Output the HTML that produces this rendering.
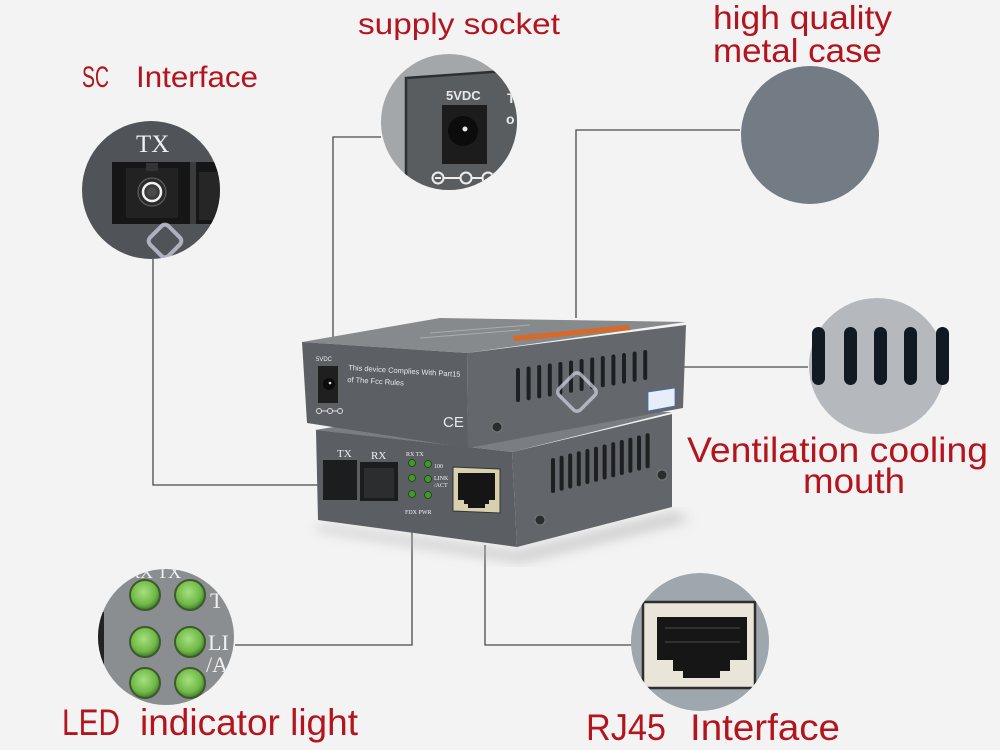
<!DOCTYPE html>
<html><head><meta charset="utf-8"><style>
html,body{margin:0;padding:0;background:#f3f3f3;}
svg{display:block;}
.lbl{font-family:"Liberation Sans",Arial,sans-serif;fill:#b3141d;}
.w{font-family:"Liberation Sans",Arial,sans-serif;fill:#e8e8e8;}
.ws{font-family:"Liberation Serif",serif;fill:#f0f0f0;}
</style></head><body>
<svg width="1000" height="750" viewBox="0 0 1000 750" xmlns="http://www.w3.org/2000/svg">
<defs>
<clipPath id="c1"><circle cx="151" cy="190" r="69"/></clipPath>
<clipPath id="c2"><circle cx="449" cy="122" r="68"/></clipPath>
<clipPath id="c5"><circle cx="166" cy="637" r="68"/></clipPath>
<clipPath id="c6"><circle cx="700" cy="642" r="69"/></clipPath>
<radialGradient id="led" cx="0.45" cy="0.4" r="0.6"><stop offset="0" stop-color="#a6e07e"/><stop offset="0.7" stop-color="#6fb846"/><stop offset="1" stop-color="#3f7a2a"/></radialGradient>
<filter id="blur"><feGaussianBlur stdDeviation="6"/></filter>
</defs>
<rect width="1000" height="750" fill="#f3f3f3"/>

<!-- connectors -->
<g fill="none" stroke="#4a4a4a" stroke-width="1.3">
<path d="M153,259 V485 H323"/>
<path d="M381,137 H333 V352"/>
<path d="M740,130 H576 V318"/>
<path d="M642,367 H808"/>
<path d="M235,645 H412 V530"/>
<path d="M633,645 H485 V545"/>
</g>

<!-- shadow -->
<polygon points="320,525 517,552 675,512 690,520 520,562 315,530" fill="#b8b8b8" filter="url(#blur)" opacity="0.7"/>

<!-- bottom box -->
<polygon points="315,430 420,413 672,412 512,452" fill="#7a7e82"/>
<polygon points="316,430 512,452 517,547 318,520" fill="#5b5f63"/>
<polygon points="512,452 672,414 672,507 517,547" fill="#62666a"/>
<g fill="#1d1f21">
<rect x="551" y="458" width="4" height="35" rx="2"/>
<rect x="559.6" y="455.7" width="4" height="35" rx="2"/>
<rect x="568.2" y="453.5" width="4" height="35" rx="2"/>
<rect x="576.8" y="451.2" width="4" height="35" rx="2"/>
<rect x="585.4" y="449" width="4" height="35" rx="2"/>
<rect x="594" y="446.7" width="4" height="35" rx="2"/>
<rect x="602.6" y="444.5" width="4" height="35" rx="2"/>
<rect x="611.2" y="442.2" width="4" height="35" rx="2"/>
<rect x="619.8" y="440" width="4" height="35" rx="2"/>
<rect x="628.4" y="437.7" width="4" height="35" rx="2"/>
<rect x="637" y="435.5" width="4" height="35" rx="2"/>
<rect x="645.6" y="433.2" width="4" height="35" rx="2"/>
</g>
<circle cx="540" cy="520" r="5" fill="#2a2c2e" stroke="#777" stroke-width="1"/>
<circle cx="662" cy="475" r="5" fill="#2a2c2e" stroke="#777" stroke-width="1"/>
<!-- SC ports -->
<rect x="323" y="460" width="34" height="40" fill="#1c1d1f"/>
<rect x="360" y="462" width="38" height="39" fill="#1c1d1f"/>
<rect x="364" y="468" width="30" height="30" fill="#2c2d2f"/>
<text class="ws" x="337" y="457" font-size="11">TX</text>
<text class="ws" x="371" y="459" font-size="11">RX</text>
<!-- LEDs -->
<g fill="#3f9a2a" stroke="#1d3d14" stroke-width="0.8">
<circle cx="412" cy="463" r="3.5"/><circle cx="428" cy="464" r="3.5"/>
<circle cx="412" cy="478" r="3.5"/><circle cx="428" cy="479" r="3.5"/>
<circle cx="412" cy="494" r="3.5"/><circle cx="428" cy="495" r="3.5"/>
</g>
<g class="ws" font-size="6">
<text x="406" y="456">RX TX</text>
<text x="434" y="468">100</text>
<text x="434" y="480">LINK</text>
<text x="434" y="487">/ACT</text>
<text x="405" y="514">FDX PWR</text>
</g>
<!-- RJ45 -->
<polygon points="453,467 500,469 500,513 453,511" fill="#d9d0ae" stroke="#333" stroke-width="1"/>
<path d="M458,473 H495 V500 H489 V504 H485 V508 H468 V504 H464 V500 H458 Z" fill="#151515"/>

<!-- top box -->
<polygon points="302,342 440,318 686,322 467,353" fill="#878a8d"/>
<polygon points="512,336 628,325 631,330 515,341" fill="#d56a2a"/>
<g stroke="#b8babc" stroke-width="1" opacity="0.7">
<line x1="420" y1="338" x2="520" y2="330"/>
<line x1="430" y1="333" x2="530" y2="325"/>
</g>
<polygon points="302,342 467,353 468,448 307,423" fill="#5c6064"/>
<polygon points="467,353 686,325 683,408 468,448" fill="#64686c"/>
<g fill="#1d1f21">
<rect x="516" y="368" width="4" height="34" rx="2"/>
<rect x="526.6" y="366.5" width="4" height="33.7" rx="2"/>
<rect x="537.2" y="365" width="4" height="33.4" rx="2"/>
<rect x="547.8" y="363.5" width="4" height="33" rx="2"/>
<rect x="558.4" y="362" width="4" height="32.6" rx="2"/>
<rect x="569" y="360.5" width="4" height="32.3" rx="2"/>
<rect x="579.6" y="359" width="4" height="32" rx="2"/>
<rect x="590.2" y="357.5" width="4" height="31.6" rx="2"/>
<rect x="600.8" y="356" width="4" height="31.3" rx="2"/>
<rect x="611.4" y="354.5" width="4" height="31" rx="2"/>
<rect x="622" y="353" width="4" height="30.6" rx="2"/>
<rect x="632.6" y="351.5" width="4" height="30.3" rx="2"/>
<rect x="643.2" y="350" width="4" height="30" rx="2"/>
</g>
<polygon points="648,392 675,388 675,406 648,411" fill="#e8eef8" stroke="#3a6fc0" stroke-width="0.8"/>
<circle cx="497" cy="427" r="5" fill="#2a2c2e" stroke="#777" stroke-width="1"/>
<!-- power jack front -->
<text class="w" x="316" y="361" font-size="6">5VDC</text>
<rect x="318" y="366" width="20" height="37" fill="#1f1f1f"/>
<circle cx="329" cy="384" r="6" fill="#0c0c0c"/>
<circle cx="330" cy="383" r="1.3" fill="#ddd"/>
<g fill="none" stroke="#ddd" stroke-width="1">
<circle cx="319" cy="411" r="2.5"/><circle cx="330" cy="411" r="2.5"/><circle cx="340" cy="411" r="2.5"/>
<line x1="321.5" y1="411" x2="327.5" y2="411"/><line x1="332.5" y1="411" x2="337.5" y2="411"/>
</g>
<g transform="rotate(3.5 348 370)">
<text class="w" x="348" y="370" font-size="7.5">This device Complies With Part15</text>
<text class="w" x="348" y="382" font-size="7.5">of The Fcc Rules</text>
</g>
<text class="w" x="443" y="427" font-size="15">CE</text>
<!-- watermark -->
<rect x="562" y="377" width="30" height="30" rx="5" fill="none" stroke="#d4d4e6" stroke-width="3.5" opacity="0.7" transform="rotate(45 577 392)"/>

<!-- circle 1 SC -->
<g clip-path="url(#c1)">
<rect x="80" y="120" width="145" height="145" fill="#505357"/>
<rect x="112" y="162" width="106" height="62" fill="#161616"/>
<rect x="190" y="162" width="6" height="62" fill="#3a3c3e"/>
<rect x="199" y="172" width="22" height="48" fill="#262626"/>
<rect x="126" y="168" width="52" height="50" fill="#222"/>
<rect x="146" y="163" width="12" height="8" fill="#333"/>
<circle cx="152" cy="192" r="14" fill="#2a2a2a" stroke="#666" stroke-width="1"/>
<circle cx="152" cy="192" r="9" fill="#3a3a3a" stroke="#f2f2f2" stroke-width="2.5"/>
<circle cx="152" cy="192" r="5" fill="#4a4a4a"/>
<text class="ws" x="136" y="152" font-size="25">TX</text>
<rect x="152" y="228" width="26" height="26" rx="5" fill="none" stroke="#c8c8dc" stroke-width="4" opacity="0.8" transform="rotate(45 165 241)"/>
</g>

<!-- circle 2 supply -->
<g clip-path="url(#c2)">
<rect x="380" y="54" width="140" height="140" fill="#a4a7aa"/>
<polygon points="406,78 520,70 520,200 406,200" fill="#5a5d60" stroke="#2d2f31" stroke-width="2.5"/>
<text class="w" x="446" y="100" font-size="13" font-weight="bold">5VDC</text>
<rect x="442" y="105" width="45" height="59" fill="#1c1c1c"/>
<circle cx="463" cy="131" r="15" fill="#0c0c0c"/>
<circle cx="465" cy="129" r="2.5" fill="#e6e6e6"/>
<g fill="none" stroke="#eee" stroke-width="2">
<circle cx="438" cy="178" r="5.5"/><circle cx="466" cy="178" r="5.5"/><circle cx="488" cy="178" r="5.5"/>
<line x1="443.5" y1="178" x2="460.5" y2="178"/><line x1="471.5" y1="178" x2="482.5" y2="178"/>
<line x1="435" y1="178" x2="441" y2="178"/>
</g>
<text class="w" x="507" y="103" font-size="14" font-weight="bold">T</text>
<text class="w" x="506" y="124" font-size="14" font-weight="bold">o</text>
</g>

<!-- circle 3 metal case -->
<circle cx="810" cy="135" r="69" fill="#737c84"/>

<!-- circle 4 ventilation -->
<circle cx="877" cy="366" r="68" fill="#b5b9bd"/>
<g fill="#111a22">
<rect x="812" y="327" width="13" height="58" rx="6.5"/>
<rect x="844" y="327" width="13" height="58" rx="6.5"/>
<rect x="874" y="327" width="13" height="58" rx="6.5"/>
<rect x="904" y="327" width="13" height="58" rx="6.5"/>
<rect x="936" y="327" width="13" height="58" rx="6.5"/>
</g>

<!-- circle 5 LED -->
<g clip-path="url(#c5)">
<rect x="95" y="565" width="145" height="145" fill="#8b8e91"/>
<rect x="97" y="612" width="7" height="70" fill="#222"/>
<g stroke="#3c5a2c" stroke-width="2" fill="url(#led)">
<circle cx="145" cy="595" r="15"/><circle cx="190" cy="595" r="15"/>
<circle cx="145" cy="642" r="15"/><circle cx="190" cy="642" r="15"/>
<circle cx="145" cy="683" r="15"/><circle cx="190" cy="683" r="15"/>
</g>
<text class="ws" x="208" y="650" font-size="22">LI</text>
<text class="ws" x="206" y="672" font-size="22">/A</text>
<text class="ws" x="210" y="608" font-size="22">T</text>
<text class="ws" x="128" y="578" font-size="18">RX  TX</text>
</g>

<!-- circle 6 RJ45 -->
<g clip-path="url(#c6)">
<rect x="630" y="572" width="140" height="140" fill="#9fa7ae"/>
<rect x="643" y="602" width="112" height="86" fill="#e9e5d9" stroke="#2e2e2e" stroke-width="2.5"/>
<path d="M657,617 H747 V660 H730 V671 H720 V678 H683 V671 H673 V660 H657 Z" fill="#161616"/>
<g stroke="#3a3a3a" stroke-width="1.5"><line x1="665" y1="628" x2="740" y2="628"/><line x1="665" y1="642" x2="740" y2="642"/></g>
</g>

<!-- labels -->
<text class="lbl" x="82" y="87" font-size="30" textLength="27" lengthAdjust="spacingAndGlyphs">SC</text>
<text class="lbl" x="136" y="87" font-size="30" textLength="122" lengthAdjust="spacingAndGlyphs">Interface</text>
<text class="lbl" x="358" y="34" font-size="30" textLength="202" lengthAdjust="spacingAndGlyphs">supply socket</text>
<text class="lbl" x="713" y="29" font-size="33" textLength="179" lengthAdjust="spacingAndGlyphs">high quality</text>
<text class="lbl" x="713" y="62" font-size="33" textLength="169" lengthAdjust="spacingAndGlyphs">metal case</text>
<text class="lbl" x="687" y="462" font-size="35" textLength="301" lengthAdjust="spacingAndGlyphs">Ventilation cooling</text>
<text class="lbl" x="803" y="493" font-size="35" textLength="102" lengthAdjust="spacingAndGlyphs">mouth</text>
<text class="lbl" x="62" y="735" font-size="37" textLength="58" lengthAdjust="spacingAndGlyphs">LED</text>
<text class="lbl" x="140" y="735" font-size="37" textLength="218" lengthAdjust="spacingAndGlyphs">indicator light</text>
<text class="lbl" x="586" y="740" font-size="37" textLength="80" lengthAdjust="spacingAndGlyphs">RJ45</text>
<text class="lbl" x="690" y="740" font-size="37" textLength="150" lengthAdjust="spacingAndGlyphs">Interface</text>
</svg>
</body></html>
